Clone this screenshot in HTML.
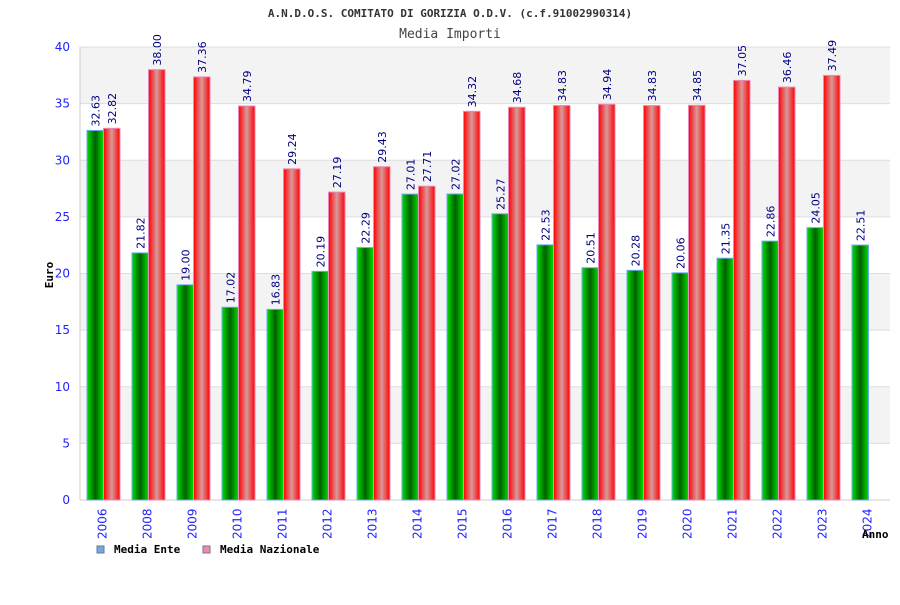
<!DOCTYPE html>
<html><head><meta charset="utf-8"><style>
body{margin:0;background:#fff;}
svg text{font-family:"DejaVu Sans Mono","Liberation Mono",monospace;}
svg text.sans{font-family:"DejaVu Sans","Liberation Sans",sans-serif;}
</style></head><body>
<svg id="chart" width="900" height="600" xmlns="http://www.w3.org/2000/svg">
<defs>
<linearGradient id="gG" x1="0" x2="1" y1="0" y2="0">
<stop offset="0" stop-color="#00e000"/><stop offset="0.5" stop-color="#006000"/><stop offset="1" stop-color="#00e000"/></linearGradient>
<linearGradient id="gR" x1="0" x2="1" y1="0" y2="0">
<stop offset="0" stop-color="#ff0000"/><stop offset="0.5" stop-color="#d89a9a"/><stop offset="1" stop-color="#ff0000"/></linearGradient>
</defs>
<text x="450" y="17" text-anchor="middle" font-size="11" font-weight="bold" fill="#333">A.N.D.O.S. COMITATO DI GORIZIA O.D.V. (c.f.91002990314)</text>
<text x="450" y="38" text-anchor="middle" font-size="13" fill="#444">Media Importi</text>
<g id="grid"></g><g id="bars"></g><g id="labels"></g>
<text transform="translate(53,275) rotate(-90)" text-anchor="middle" font-size="11" font-weight="bold" fill="#000">Euro</text>
<text x="862" y="538" font-size="11" font-weight="bold" fill="#000">Anno</text>
<g>
<rect x="97" y="546" width="7" height="7" fill="#6aaaee" stroke="#777"/>
<text x="114" y="553" font-size="11" font-weight="bold" fill="#000">Media Ente</text></g>
<g>
<rect x="203" y="546" width="7" height="7" fill="#ee88bb" stroke="#777"/>
<text x="220" y="553" font-size="11" font-weight="bold" fill="#000">Media Nazionale</text></g>
</svg>
<script>
const categories=["2006","2008","2009","2010","2011","2012","2013","2014","2015","2016","2017","2018","2019","2020","2021","2022","2023","2024"];
const mediaEnte=[32.63,21.82,19.00,17.02,16.83,20.19,22.29,27.01,27.02,25.27,22.53,20.51,20.28,20.06,21.35,22.86,24.05,22.51];
const mediaNazionale=[32.82,38.00,37.36,34.79,29.24,27.19,29.43,27.71,34.32,34.68,34.83,34.94,34.83,34.85,37.05,36.46,37.49,null];
const yTicks=[0,5,10,15,20,25,30,35,40];
const NS="http://www.w3.org/2000/svg";
const L=80,R=890,T=47,B=500,yMax=40;
const band=(R-L)/categories.length;
const y=v=>B-(v/yMax)*(B-T);
const x=i=>L+i*band;
function mk(tag,attrs,parent){const e=document.createElementNS(NS,tag);for(const k in attrs)e.setAttribute(k,attrs[k]);parent.appendChild(e);return e;}
const grid=document.getElementById('grid'),bars=document.getElementById('bars'),labels=document.getElementById('labels');
for(let i=0;i<yTicks.length-1;i++){
  if(i%2===1){const r=mk('rect',{x:L,y:y(yTicks[i+1]),width:R-L,height:y(yTicks[i])-y(yTicks[i+1]),fill:'#f3f3f3'},grid);
  
  }
}
yTicks.forEach(t=>{
  const l=mk('line',{x1:L,x2:R,y1:y(t),y2:y(t),stroke:'#ddd','stroke-width':1},grid);
  
  
  const tx=mk('text',{x:70,y:y(t)+4,'text-anchor':'end','font-size':12,fill:'#22f',class:'sans'},grid);
  tx.textContent=t;
  
  
});
mk('line',{x1:L,x2:L,y1:T,y2:B,stroke:'#ccc'},grid);
mk('line',{x1:L,x2:R,y1:B,y2:B,stroke:'#ccc'},grid);
const bw=16.5,off=7;
function label(cx,v,yy){
  const t=mk('text',{transform:`translate(${cx+4},${yy-4}) rotate(-90)`,'font-size':11,fill:'#000080',class:'sans'},labels);
  t.textContent=v.toFixed(2);
  
  
}
categories.forEach((c,i)=>{
  const x0=x(i)+off;
  const v1=mediaEnte[i];
  if(v1!=null){
    const b=mk('rect',{x:x0,y:y(v1),width:bw,height:B-y(v1),fill:'url(#gG)',stroke:'#6aaaee','stroke-width':1},bars);
    
    
    label(x0+bw/2,v1,y(v1));
  }
  const v2=mediaNazionale[i];
  if(v2!=null){
    const b=mk('rect',{x:x0+bw,y:y(v2),width:bw,height:B-y(v2),fill:'url(#gR)',stroke:'#ee88bb','stroke-width':1},bars);
    
    
    label(x0+bw*1.5,v2,y(v2));
  }
  const t=mk('text',{transform:`translate(${x(i)+band/2+4},539) rotate(-90)`,'font-size':12,fill:'#22f',class:'sans'},labels);
  t.textContent=c;
  
  
});
</script>
</body></html>
